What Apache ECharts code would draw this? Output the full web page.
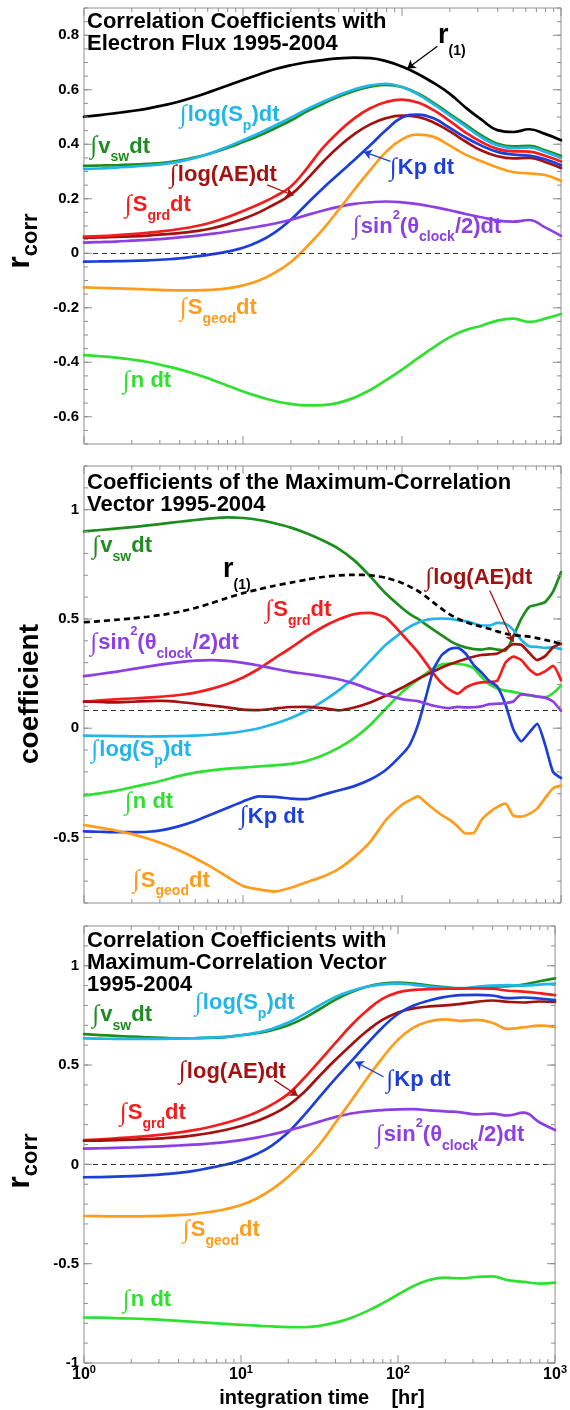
<!DOCTYPE html>
<html>
<head>
<meta charset="utf-8">
<script src="https://cdn.jsdelivr.net/npm/echarts@6/dist/echarts.min.js"></script>
<style>
  html, body { margin: 0; padding: 0; background: #ffffff; }
  #chart { width: 570px; height: 1410px; }
</style>
</head>
<body>
<div id="chart"></div>
<script>
// Integration times [hr], sampled every 0.1 decade
const hours = [1, 1.26, 1.58, 2, 2.51, 3.16, 3.98, 5.01, 6.31, 7.94, 10, 12.6, 15.8, 20, 25.1, 31.6, 39.8, 50.1, 63.1, 79.4,
               100, 126, 158, 200, 251, 316, 398, 501, 631, 794, 1000];
// Finer sampling above 100 hr for the vector coefficients
const hoursFine = [1, 1.26, 1.58, 2, 2.51, 3.16, 3.98, 5.01, 6.31, 7.94, 10, 12.6, 15.8, 20, 25.1, 31.6, 39.8, 50.1, 63.1, 79.4,
                   100, 112, 126, 141, 158, 178, 200, 224, 251, 282, 316, 355, 398, 447, 501, 562, 631, 708, 794, 891, 1000];

// ---- Panel 1: correlation with electron flux ----
const r1_p1    = [0.501, 0.507, 0.514, 0.522, 0.531, 0.543, 0.557, 0.574, 0.594, 0.615, 0.636, 0.656, 0.675, 0.690, 0.701, 0.709, 0.715, 0.718, 0.716, 0.705, 0.685, 0.658, 0.625, 0.585, 0.535, 0.490, 0.452, 0.445, 0.455, 0.438, 0.415];
const vsw_p1   = [0.321, 0.322, 0.323, 0.325, 0.328, 0.332, 0.340, 0.352, 0.367, 0.386, 0.408, 0.431, 0.458, 0.487, 0.520, 0.548, 0.574, 0.596, 0.611, 0.618, 0.610, 0.586, 0.552, 0.511, 0.472, 0.432, 0.402, 0.392, 0.394, 0.378, 0.357];
const sp_p1    = [0.309, 0.311, 0.314, 0.318, 0.322, 0.327, 0.336, 0.350, 0.368, 0.390, 0.415, 0.440, 0.468, 0.497, 0.528, 0.555, 0.580, 0.601, 0.616, 0.622, 0.610, 0.583, 0.547, 0.505, 0.466, 0.425, 0.396, 0.386, 0.388, 0.372, 0.350];
const ae_p1    = [0.057, 0.058, 0.060, 0.062, 0.065, 0.069, 0.074, 0.081, 0.091, 0.106, 0.126, 0.150, 0.180, 0.215, 0.270, 0.333, 0.390, 0.437, 0.473, 0.496, 0.505, 0.500, 0.480, 0.447, 0.410, 0.377, 0.356, 0.348, 0.350, 0.335, 0.313];
const grd_p1   = [0.061, 0.063, 0.066, 0.070, 0.075, 0.081, 0.089, 0.099, 0.113, 0.132, 0.155, 0.180, 0.208, 0.245, 0.310, 0.385, 0.445, 0.495, 0.532, 0.555, 0.564, 0.553, 0.525, 0.485, 0.443, 0.408, 0.383, 0.374, 0.373, 0.358, 0.337];
const kp_p1    = [-0.031, -0.030, -0.029, -0.028, -0.026, -0.023, -0.019, -0.012, -0.004, 0.006, 0.020, 0.043, 0.076, 0.123, 0.180, 0.237, 0.290, 0.342, 0.396, 0.452, 0.498, 0.509, 0.495, 0.460, 0.425, 0.395, 0.372, 0.362, 0.358, 0.345, 0.323];
const sin2_p1  = [0.039, 0.041, 0.043, 0.046, 0.049, 0.053, 0.058, 0.064, 0.071, 0.079, 0.088, 0.098, 0.109, 0.123, 0.140, 0.156, 0.170, 0.181, 0.187, 0.190, 0.187, 0.180, 0.170, 0.158, 0.144, 0.132, 0.120, 0.116, 0.122, 0.095, 0.064];
const geod_p1  = [-0.125, -0.127, -0.129, -0.131, -0.133, -0.135, -0.136, -0.136, -0.134, -0.129, -0.118, -0.100, -0.072, -0.032, 0.023, 0.086, 0.158, 0.233, 0.305, 0.372, 0.418, 0.435, 0.427, 0.395, 0.362, 0.338, 0.315, 0.298, 0.293, 0.287, 0.266];
const n_p1     = [-0.374, -0.378, -0.383, -0.390, -0.399, -0.412, -0.426, -0.443, -0.463, -0.485, -0.507, -0.526, -0.542, -0.553, -0.558, -0.557, -0.549, -0.530, -0.502, -0.466, -0.427, -0.385, -0.345, -0.308, -0.282, -0.266, -0.247, -0.240, -0.252, -0.240, -0.223];

// ---- Panel 2: coefficients of the maximum-correlation vector ----
const r1_p2    = [0.485, 0.490, 0.496, 0.502, 0.510, 0.520, 0.533, 0.550, 0.572, 0.596, 0.618, 0.636, 0.652, 0.666, 0.680, 0.692, 0.699, 0.702, 0.700, 0.688, 0.665,
                  0.648, 0.628, 0.603, 0.575, 0.546, 0.521, 0.501, 0.486, 0.474, 0.465, 0.455, 0.443, 0.433, 0.426, 0.423, 0.419, 0.412, 0.404, 0.396, 0.386];
const vsw_p2   = [0.901, 0.907, 0.913, 0.920, 0.928, 0.936, 0.945, 0.953, 0.960, 0.965, 0.962, 0.953, 0.938, 0.918, 0.892, 0.860, 0.822, 0.768, 0.695, 0.615, 0.550,
                  0.522, 0.500, 0.475, 0.450, 0.425, 0.400, 0.382, 0.370, 0.362, 0.360, 0.365, 0.360, 0.355, 0.420, 0.500, 0.555, 0.565, 0.577, 0.625, 0.714];
const sp_p2    = [-0.034, -0.035, -0.036, -0.037, -0.038, -0.037, -0.036, -0.034, -0.030, -0.024, -0.014, 0.000, 0.020, 0.047, 0.080, 0.122, 0.172, 0.232, 0.308, 0.383, 0.440,
                  0.465, 0.483, 0.495, 0.500, 0.502, 0.500, 0.495, 0.490, 0.480, 0.470, 0.470, 0.482, 0.478, 0.450, 0.405, 0.375, 0.372, 0.368, 0.370, 0.362];
const ae_p2    = [0.122, 0.120, 0.118, 0.121, 0.124, 0.125, 0.120, 0.112, 0.104, 0.095, 0.085, 0.083, 0.090, 0.097, 0.098, 0.092, 0.082, 0.095, 0.118, 0.150, 0.185,
                  0.205, 0.225, 0.243, 0.260, 0.278, 0.293, 0.305, 0.317, 0.327, 0.335, 0.338, 0.342, 0.363, 0.385, 0.382, 0.345, 0.312, 0.330, 0.370, 0.386];
const grd_p2   = [0.122, 0.127, 0.132, 0.136, 0.140, 0.145, 0.152, 0.163, 0.180, 0.202, 0.232, 0.272, 0.320, 0.368, 0.418, 0.462, 0.497, 0.522, 0.528, 0.505, 0.430,
                  0.390, 0.348, 0.300, 0.250, 0.205, 0.175, 0.158, 0.185, 0.202, 0.210, 0.212, 0.218, 0.300, 0.328, 0.312, 0.270, 0.245, 0.260, 0.285, 0.220];
const kp_p2    = [-0.472, -0.474, -0.476, -0.476, -0.474, -0.465, -0.448, -0.425, -0.395, -0.365, -0.335, -0.312, -0.314, -0.322, -0.325, -0.305, -0.285, -0.265, -0.235, -0.190, -0.120,
                  -0.075, 0.015, 0.140, 0.270, 0.335, 0.362, 0.368, 0.342, 0.290, 0.255, 0.215, 0.190, 0.110, -0.005, -0.060, -0.020, 0.020, -0.075, -0.200, -0.228];
const sin2_p2  = [0.238, 0.248, 0.258, 0.270, 0.282, 0.293, 0.302, 0.309, 0.312, 0.308, 0.299, 0.287, 0.272, 0.258, 0.248, 0.237, 0.224, 0.204, 0.177, 0.152, 0.133,
                  0.128, 0.124, 0.113, 0.103, 0.096, 0.092, 0.098, 0.095, 0.096, 0.100, 0.110, 0.112, 0.115, 0.122, 0.155, 0.152, 0.145, 0.140, 0.122, 0.080];
const geod_p2  = [-0.443, -0.455, -0.468, -0.485, -0.505, -0.530, -0.560, -0.595, -0.635, -0.680, -0.722, -0.738, -0.748, -0.730, -0.705, -0.680, -0.645, -0.590, -0.520, -0.420, -0.350,
                  -0.330, -0.312, -0.340, -0.370, -0.398, -0.420, -0.450, -0.482, -0.480, -0.420, -0.385, -0.360, -0.345, -0.400, -0.405, -0.392, -0.368, -0.320, -0.275, -0.263];
const n_p2     = [-0.308, -0.298, -0.287, -0.270, -0.255, -0.238, -0.218, -0.203, -0.193, -0.185, -0.180, -0.175, -0.170, -0.163, -0.150, -0.125, -0.090, -0.045, 0.015, 0.090, 0.165,
                  0.195, 0.222, 0.250, 0.275, 0.292, 0.296, 0.294, 0.290, 0.275, 0.235, 0.200, 0.182, 0.172, 0.166, 0.158, 0.150, 0.145, 0.142, 0.160, 0.195];
const cutoff_p2 = 0.076;   // dashed reference level in the coefficient panel

// ---- Panel 3: correlation with the maximum-correlation vector ----
const vsw_p3   = [0.656, 0.651, 0.647, 0.643, 0.640, 0.637, 0.635, 0.635, 0.637, 0.641, 0.650, 0.660, 0.676, 0.700, 0.735, 0.781, 0.828, 0.866, 0.894, 0.910, 0.915, 0.910, 0.900, 0.892, 0.886, 0.889, 0.895, 0.897, 0.905, 0.922, 0.936];
const sp_p3    = [0.634, 0.633, 0.632, 0.632, 0.632, 0.632, 0.633, 0.635, 0.638, 0.642, 0.650, 0.663, 0.683, 0.714, 0.755, 0.800, 0.842, 0.872, 0.894, 0.906, 0.910, 0.904, 0.895, 0.889, 0.887, 0.894, 0.900, 0.902, 0.900, 0.905, 0.910];
const ae_p3    = [0.119, 0.120, 0.122, 0.124, 0.127, 0.131, 0.137, 0.146, 0.158, 0.173, 0.193, 0.218, 0.251, 0.297, 0.362, 0.445, 0.525, 0.600, 0.670, 0.727, 0.765, 0.785, 0.795, 0.800, 0.808, 0.818, 0.825, 0.818, 0.815, 0.820, 0.818];
const grd_p3   = [0.122, 0.126, 0.131, 0.136, 0.142, 0.150, 0.160, 0.172, 0.188, 0.208, 0.232, 0.262, 0.302, 0.355, 0.432, 0.520, 0.610, 0.698, 0.773, 0.833, 0.866, 0.878, 0.882, 0.884, 0.885, 0.886, 0.884, 0.874, 0.870, 0.862, 0.852];
const kp_p3    = [-0.065, -0.064, -0.062, -0.059, -0.055, -0.050, -0.043, -0.033, -0.018, -0.002, 0.020, 0.052, 0.096, 0.162, 0.245, 0.338, 0.430, 0.517, 0.605, 0.688, 0.757, 0.800, 0.825, 0.843, 0.852, 0.853, 0.850, 0.837, 0.840, 0.835, 0.827];
const sin2_p3  = [0.079, 0.081, 0.083, 0.085, 0.088, 0.091, 0.095, 0.099, 0.105, 0.112, 0.122, 0.135, 0.151, 0.170, 0.192, 0.215, 0.238, 0.256, 0.267, 0.273, 0.277, 0.278, 0.272, 0.267, 0.262, 0.252, 0.255, 0.246, 0.260, 0.212, 0.173];
const geod_p3  = [-0.260, -0.261, -0.262, -0.262, -0.261, -0.259, -0.256, -0.250, -0.240, -0.226, -0.205, -0.172, -0.125, -0.062, 0.012, 0.100, 0.208, 0.318, 0.430, 0.535, 0.628, 0.690, 0.720, 0.730, 0.722, 0.727, 0.713, 0.682, 0.690, 0.698, 0.692];
const n_p3     = [-0.771, -0.772, -0.774, -0.776, -0.779, -0.783, -0.788, -0.793, -0.798, -0.803, -0.808, -0.812, -0.816, -0.819, -0.820, -0.813, -0.797, -0.773, -0.740, -0.700, -0.655, -0.612, -0.582, -0.570, -0.574, -0.567, -0.564, -0.583, -0.592, -0.600, -0.595];

// Axis ticks
const xMajorTicks = [1, 10, 100, 1000];
const xMinorTicks = [2, 3, 4, 5, 6, 7, 8, 9, 20, 30, 40, 50, 60, 70, 80, 90, 200, 300, 400, 500, 600, 700, 800, 900];
const yMajor1 = [-0.6, -0.4, -0.2, 0, 0.2, 0.4, 0.6, 0.8];
const yMajor2 = [-0.5, 0, 0.5, 1];
const yMajor3 = [-1, -0.5, 0, 0.5, 1];

const COL = {
  r1: '#000000', vsw: '#1e8c1e', sp: '#22b5e8', ae: '#a3120f', grd: '#f41d1d',
  kp: '#1b3fd8', sin2: '#8c3fe3', geod: '#ff9c1c', n: '#30e030'
};
const FRAME = '#8e8e8e';
const SANS = '"Liberation Sans", Arial, sans-serif';

// plot boxes
const GRIDS = [
  { top: 8,   height: 436, yMin: -0.7, yMax: 0.9, split: 8, minorStep: 0.05, major: yMajor1 },
  { top: 466, height: 437, yMin: -0.8, yMax: 1.2, split: 4, minorStep: 0.1,  major: yMajor2 },
  { top: 926, height: 437, yMin: -1.0, yMax: 1.2, split: 4, minorStep: 0.1,  major: yMajor3 }
];

function stepsBetween(a, b, s) {
  const out = [];
  const n = Math.round((b - a) / s);
  for (let i = 0; i <= n; i++) out.push(+(a + i * s).toFixed(4));
  return out;
}

function lineSeries(xs, ys, color, gi, extra) {
  return Object.assign({
    type: 'line', xAxisIndex: gi, yAxisIndex: gi,
    data: xs.map((h, i) => [h, ys[i]]),
    showSymbol: false, symbol: 'none', smooth: 0.45,
    lineStyle: { color: color, width: 2.7, cap: 'round', join: 'round' }, itemStyle: { color: color },
    silent: true, z: 3
  }, extra || {});
}

function refLine(value) {
  return {
    silent: true, symbol: 'none', animation: false, label: { show: false },
    lineStyle: { color: '#333333', width: 1, type: [5, 4] },
    data: [{ yAxis: value }]
  };
}

function arrow(color, from, to) {
  return {
    silent: true, symbol: ['none', 'arrow'], symbolSize: 8, animation: false,
    label: { show: false },
    lineStyle: { color: color, width: 1.3, type: 'solid' },
    data: [[{ coord: from }, { coord: to }]]
  };
}

function frameTicks(gi) {
  const g = GRIDS[gi];
  const minors = stepsBetween(g.yMin, g.yMax, g.minorStep);
  return {
    type: 'custom', xAxisIndex: gi, yAxisIndex: gi, silent: true, z: 10, clip: false,
    data: [[10, 0]],
    renderItem: function (params, api) {
      const lb = api.coord([1, g.yMin]), rt = api.coord([1000, g.yMax]);
      const L = lb[0], B = lb[1], R = rt[0], T = rt[1];
      const kids = [];
      const seg = (x1, y1, x2, y2) => kids.push({
        type: 'line', shape: { x1: x1, y1: y1, x2: x2, y2: y2 },
        style: { stroke: FRAME, lineWidth: 1 }
      });
      xMajorTicks.forEach(t => { const x = api.coord([t, g.yMin])[0]; seg(x, B, x, B - 8); seg(x, T, x, T + 8); });
      xMinorTicks.forEach(t => { const x = api.coord([t, g.yMin])[0]; seg(x, B, x, B - 4); seg(x, T, x, T + 4); });
      g.major.forEach(v => { const y = api.coord([1, v])[1]; seg(L, y, L + 8, y); seg(R, y, R - 8, y); });
      minors.forEach(v => { const y = api.coord([1, v])[1]; seg(L, y, L + 4, y); seg(R, y, R - 4, y); });
      return { type: 'group', children: kids };
    }
  };
}

const grid = GRIDS.map(g => ({
  left: 84, width: 477, top: g.top, height: g.height,
  show: true, borderColor: FRAME, borderWidth: 1, backgroundColor: 'transparent'
}));

const xAxis = GRIDS.map((g, i) => ({
  type: 'log', logBase: 10, min: 1, max: 1000, gridIndex: i,
  axisLine: { show: false }, axisTick: { show: false }, splitLine: { show: false },
  axisLabel: i < 2 ? { show: false } : {
    show: true, margin: 1, color: '#000',
    formatter: v => '{b|10}{e|' + Math.round(Math.log10(v)) + '}',
    rich: {
      b: { fontFamily: SANS, fontWeight: 'bold', fontSize: 16, lineHeight: 22, verticalAlign: 'middle' },
      e: { fontFamily: SANS, fontWeight: 'bold', fontSize: 11, lineHeight: 10, verticalAlign: 'top' }
    }
  }
}));

const yAxis = GRIDS.map((g, i) => ({
  type: 'value', gridIndex: i, min: g.yMin, max: g.yMax, splitNumber: g.split,
  axisLine: { show: false }, axisTick: { show: false }, splitLine: { show: false },
  axisLabel: {
    show: true, margin: 5, color: '#000', fontFamily: SANS, fontWeight: 'bold', fontSize: 15,
    showMinLabel: i === 2, showMaxLabel: false
  }
}));

const series = [
  // panel 1
  lineSeries(hours, n_p1, COL.n, 0, { markLine: refLine(0) }),
  lineSeries(hours, vsw_p1, COL.vsw, 0),
  lineSeries(hours, sp_p1, COL.sp, 0),
  lineSeries(hours, ae_p1, COL.ae, 0, { markLine: arrow(COL.ae, [14.2, 0.251], [20.8, 0.212]) }),
  lineSeries(hours, grd_p1, COL.grd, 0),
  lineSeries(hours, kp_p1, COL.kp, 0, { markLine: arrow(COL.kp, [84.7, 0.337], [57.5, 0.372]) }),
  lineSeries(hours, sin2_p1, COL.sin2, 0),
  lineSeries(hours, geod_p1, COL.geod, 0),
  lineSeries(hours, r1_p1, COL.r1, 0, { markLine: arrow(COL.r1, [167, 0.760], [108, 0.678]) }),
  frameTicks(0),
  // panel 2
  lineSeries(hoursFine, n_p2, COL.n, 1, { smooth: 0.2, markLine: refLine(cutoff_p2) }),
  lineSeries(hoursFine, vsw_p2, COL.vsw, 1, { smooth: 0.2 }),
  lineSeries(hoursFine, sp_p2, COL.sp, 1, { smooth: 0.2 }),
  lineSeries(hoursFine, grd_p2, COL.grd, 1, { smooth: 0.2 }),
  lineSeries(hoursFine, ae_p2, COL.ae, 1, { smooth: 0.2, markLine: arrow(COL.ae, [356, 0.630], [502, 0.394]) }),
  lineSeries(hoursFine, kp_p2, COL.kp, 1, { smooth: 0.2 }),
  lineSeries(hoursFine, sin2_p2, COL.sin2, 1, { smooth: 0.2 }),
  lineSeries(hoursFine, geod_p2, COL.geod, 1, { smooth: 0.2 }),
  lineSeries(hoursFine, r1_p2, COL.r1, 1, { smooth: 0.2, lineStyle: { color: COL.r1, width: 2.7, type: [6, 4] } }),
  frameTicks(1),
  // panel 3
  lineSeries(hours, n_p3, COL.n, 2, { markLine: refLine(0) }),
  lineSeries(hours, vsw_p3, COL.vsw, 2),
  lineSeries(hours, sp_p3, COL.sp, 2),
  lineSeries(hours, grd_p3, COL.grd, 2),
  lineSeries(hours, ae_p3, COL.ae, 2, { markLine: arrow(COL.ae, [16.3, 0.424], [23.0, 0.345]) }),
  lineSeries(hours, kp_p3, COL.kp, 2, { markLine: arrow(COL.kp, [80.8, 0.441], [53.5, 0.516]) }),
  lineSeries(hours, sin2_p3, COL.sin2, 2),
  lineSeries(hours, geod_p3, COL.geod, 2),
  frameTicks(2)
];

// ---- text annotations ----
const RICH = {
  i: { fontFamily: '"Liberation Serif", "DejaVu Serif", serif', fontSize: 25, lineHeight: 36, verticalAlign: 'middle', padding: [0, 1, 0, 0] },
  m: { fontFamily: SANS, fontWeight: 'bold', fontSize: 22, lineHeight: 36, verticalAlign: 'middle' },
  s: { fontFamily: SANS, fontWeight: 'bold', fontSize: 14, lineHeight: 14, verticalAlign: 'bottom' },
  p: { fontFamily: SANS, fontWeight: 'bold', fontSize: 13, lineHeight: 24, verticalAlign: 'top' },
  r: { fontFamily: SANS, fontWeight: 'bold', fontSize: 27, lineHeight: 44, verticalAlign: 'middle' },
  q: { fontFamily: SANS, fontWeight: 'bold', fontSize: 14, lineHeight: 10, verticalAlign: 'bottom' }
};
const TXT = {
  vsw: '{i|∫}{m|v}{s|sw}{m|dt}',
  sp: '{i|∫}{m|log(S}{s|p}{m|)dt}',
  ae: '{i|∫}{m|log(AE)dt}',
  grd: '{i|∫}{m|S}{s|grd}{m|dt}',
  geod: '{i|∫}{m|S}{s|geod}{m|dt}',
  kp: '{i|∫}{m|Kp dt}',
  n: '{i|∫}{m|n dt}',
  sin2: '{i|∫}{m|sin}{p|2}{m|(θ}{s|clock}{m|/2)dt}',
  r1: '{r|r}{q|(1)}'
};

function label(key, x, y) {
  return {
    type: 'text', x: x, y: y, silent: true, z: 20,
    style: { text: TXT[key], rich: RICH, fill: COL[key], align: 'left', verticalAlign: 'middle' }
  };
}
function title(text, y) {
  return {
    type: 'text', x: 87, y: y, silent: true, z: 20,
    style: { text: text, fill: '#000', font: 'bold 22px ' + SANS, lineHeight: 22, align: 'left', verticalAlign: 'top' }
  };
}
function rcorr(y) {
  return {
    type: 'text', x: 20, y: y, rotation: Math.PI / 2, silent: true, z: 20,
    style: {
      text: '{r|r}{c|corr}', fill: '#000', align: 'center', verticalAlign: 'middle',
      rich: {
        r: { fontFamily: SANS, fontWeight: 'bold', fontSize: 32, lineHeight: 44, verticalAlign: 'middle' },
        c: { fontFamily: SANS, fontWeight: 'bold', fontSize: 22, lineHeight: 21, verticalAlign: 'bottom' }
      }
    }
  };
}

const graphic = [
  title('Correlation Coefficients with\nElectron Flux 1995-2004', 10.5),
  title('Coefficients of the Maximum-Correlation\nVector 1995-2004', 472),
  title('Correlation Coefficients with\nMaximum-Correlation Vector\n1995-2004', 929.5),
  rcorr(241),
  rcorr(1161),
  {
    type: 'text', x: 30, y: 694, rotation: Math.PI / 2, silent: true, z: 20,
    style: { text: 'coefficient', fill: '#000', font: 'bold 28px ' + SANS, align: 'center', verticalAlign: 'middle' }
  },
  {
    type: 'text', x: 322, y: 1398, silent: true, z: 20,
    style: { text: 'integration time    [hr]', fill: '#000', font: 'bold 20px ' + SANS, align: 'center', verticalAlign: 'middle' }
  },
  // panel 1
  label('r1', 438, 36),
  label('sp', 180, 115),
  label('vsw', 90.5, 146.5),
  label('kp', 390, 168),
  label('ae', 170, 175),
  label('grd', 125, 205),
  label('sin2', 353, 226.5),
  label('geod', 180, 308),
  label('n', 123, 381),
  // panel 2
  label('vsw', 92.5, 546),
  label('r1', 223, 570),
  label('ae', 425.5, 578),
  label('grd', 265.5, 610),
  label('sin2', 90.5, 643),
  label('sp', 91.5, 750),
  label('n', 125, 802),
  label('kp', 240, 816.5),
  label('geod', 133, 880.5),
  // panel 3
  label('sp', 195, 1003),
  label('vsw', 92.5, 1015),
  label('ae', 179, 1071.5),
  label('kp', 386.5, 1080),
  label('grd', 120, 1113),
  label('sin2', 376, 1135),
  label('geod', 183, 1230),
  label('n', 123, 1300)
];

const chart = echarts.init(document.getElementById('chart'), null, { renderer: 'canvas' });
chart.setOption({
  animation: false,
  backgroundColor: '#ffffff',
  grid: grid,
  xAxis: xAxis,
  yAxis: yAxis,
  series: series,
  graphic: graphic
});
</script>
</body>
</html>
